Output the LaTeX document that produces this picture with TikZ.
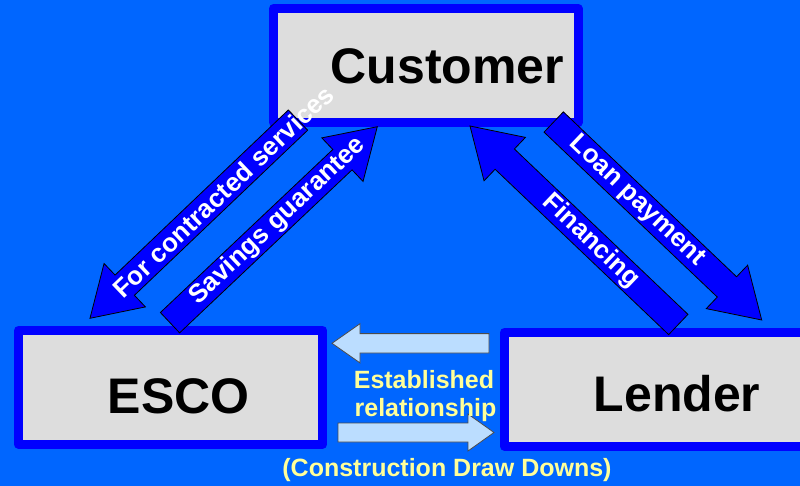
\documentclass[tikz,border=0pt]{standalone}
\usepackage{fontspec}
\setmainfont{Liberation Sans}
\usetikzlibrary{calc}

\definecolor{bgblue}{HTML}{0066FF}
\definecolor{boxblue}{HTML}{0000FF}
\definecolor{boxgray}{HTML}{DDDDDD}
\definecolor{paleblue}{HTML}{BBDDFF}
\definecolor{paleyellow}{HTML}{FFFF99}

\tikzset{
  party/.style={draw=boxblue, fill=boxgray, line width=9pt, line join=round,
    inner sep=0pt, outer sep=0pt},
  partylabel/.style={font=\fontsize{50}{60}\selectfont\bfseries, text=black,
    anchor=base, inner sep=0pt},
  flowarrow/.style={fill=boxblue, draw=black, line width=0.8pt, line join=miter},
  flowlabel/.style={font=\fontsize{26}{30}\selectfont\bfseries, text=white,
    sloped, inner sep=0pt},
  linkarrow/.style={fill=paleblue, draw=black!70, line width=0.8pt, line join=miter},
  notelabel/.style={font=\fontsize{25}{30}\selectfont\bfseries, text=paleyellow,
    anchor=base, inner sep=0pt},
}

% block arrow: #1 style, #2 tail centre, #3 tip,
% #4 half shaft width, #5 half head width, #6 head length
\newcommand\blockarrow[6]{%
  \coordinate (#2-hb) at ($(#3)!#6!(#2)$);
  \path[#1] ($(#2)!#4!90:(#3)$) -- ($(#2-hb)!#4!90:(#3)$)
    -- ($(#2-hb)!#5!90:(#3)$) -- (#3) -- ($(#2-hb)!#5!-90:(#3)$)
    -- ($(#2-hb)!#4!-90:(#3)$) -- ($(#2)!#4!-90:(#3)$) -- cycle;
}

\begin{document}
\begin{tikzpicture}[x=1pt, y=-1pt]
  \useasboundingbox (0,0) rectangle (800,486);
  \fill[bgblue] (0,0) rectangle (800,486);

  % the three parties
  \node[party, minimum width=304.5pt, minimum height=114pt] (customer) at (425.75,65.5) {};
  \node[party, minimum width=304.25pt, minimum height=113.7pt] (esco) at (170.6,387.35) {};
  \node[party, minimum width=304.5pt, minimum height=113.7pt] (lender) at (656.75,389.35) {};

  \node[partylabel] (customertext) at (447.5,83.3) {Customer};
  \node[partylabel] (escotext) at (178.5,413.3) {ESCO};
  \node[partylabel] (lendertext) at (677,411.7) {Lender};

  % flow arrows between the parties
  \coordinate (a1tail) at (298,120.1);
  \coordinate (a1tip) at (90,318.3);
  \coordinate (a2tail) at (170,322.7);
  \coordinate (a2tip) at (377.3,126.7);
  \coordinate (a3tail) at (678.3,324.5);
  \coordinate (a3tip) at (470,126);
  \coordinate (a4tail) at (553.7,122);
  \coordinate (a4tip) at (761.7,320);

  \blockarrow{flowarrow}{a1tail}{a1tip}{14pt}{30pt}{48pt}
  \blockarrow{flowarrow}{a2tail}{a2tip}{14pt}{30pt}{48pt}
  \blockarrow{flowarrow}{a3tail}{a3tip}{14pt}{30pt}{48pt}
  \blockarrow{flowarrow}{a4tail}{a4tip}{14pt}{30pt}{48pt}

  % relationship arrows between ESCO and lender
  \coordinate (b1tail) at (489,343.3);
  \coordinate (b1tip) at (332,343.3);
  \coordinate (b2tail) at (338,432.5);
  \coordinate (b2tip) at (494,432.5);
  \blockarrow{linkarrow}{b1tail}{b1tip}{9.7pt}{19.6pt}{28pt}
  \blockarrow{linkarrow}{b2tail}{b2tip}{9.5pt}{18.5pt}{26pt}

  % arrow captions
  \path (a1tail) -- (a1tip) node[flowlabel, pos=0.36] (f1) {For contracted services};
  \path (a2tail) -- (a2tip) node[flowlabel, pos=0.52] (f2) {Savings guarantee};
  \path (a3tail) -- (a3tip) node[flowlabel, pos=0.42] (f3) {Financing};
  \path (a4tail) -- (a4tip) node[flowlabel, pos=0.40] (f4) {Loan payment};

  \node[notelabel] (note1) at (424,388) {Established};
  \node[notelabel] (note2) at (425.5,416.5) {relationship};
  \node[notelabel] (note3) at (447,476.5) {(Construction Draw Downs)};
\end{tikzpicture}
\end{document}
